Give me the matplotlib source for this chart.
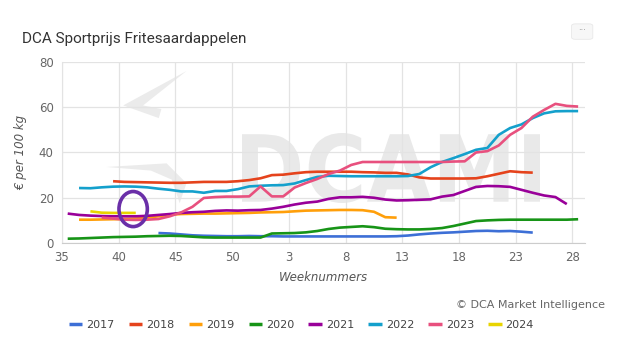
import matplotlib.pyplot as plt
import numpy as np
from matplotlib.patches import Ellipse, Polygon, FancyBboxPatch, PathPatch
from matplotlib.textpath import TextPath
from matplotlib.font_manager import FontProperties
from matplotlib.transforms import Affine2D

# Week labels along the x axis (season runs from week 35 to week 28)
tick_labels = ['35', '40', '45', '50', '3', '8', '13', '18', '23', '28']

# Prices in euro per 100 kg; each series starts at the given week index (0 = week 35)
start_2017 = 8
p2017 = [4.4, 4.2, 3.8, 3.4, 3.2, 3.1, 3.0, 3.0, 3.1, 3.0, 3.0, 2.9, 2.9, 2.9, 2.9, 2.9, 2.9,
         2.9, 2.9, 2.9, 2.9, 3.0, 3.3, 3.8, 4.2, 4.5, 4.7, 5.0, 5.3, 5.4, 5.2, 5.3, 5.0, 4.6]
start_2018 = 4
p2018 = [27.3, 27.0, 26.9, 26.8, 26.7, 26.6, 26.6, 26.8, 27.0, 27.0, 27.0, 27.3, 27.8, 28.6,
         30.0, 30.2, 30.8, 31.3, 31.5, 31.5, 31.5, 31.5, 31.3, 31.2, 31.0, 31.0, 30.3, 29.0,
         28.5, 28.5, 28.5, 28.5, 28.6, 29.5, 30.6, 31.7, 31.3, 31.1]
start_2019 = 1
p2019 = [10.3, 10.3, 10.4, 10.5, 10.6, 10.8, 11.2, 11.8, 12.5, 12.8, 12.9, 13.0, 13.0, 13.1,
         13.2, 13.3, 13.5, 13.6, 13.7, 14.0, 14.3, 14.4, 14.5, 14.6, 14.6, 14.5, 13.8, 11.4, 11.2]
start_2020 = 0
p2020 = [1.9, 2.0, 2.2, 2.4, 2.6, 2.7, 2.8, 3.0, 3.1, 3.2, 3.1, 2.8, 2.5, 2.4, 2.4, 2.4, 2.4,
         2.4, 4.2, 4.3, 4.4, 4.7, 5.3, 6.2, 6.8, 7.1, 7.4, 7.0, 6.3, 6.1, 6.0, 6.0, 6.2, 6.6,
         7.5, 8.6, 9.7, 10.0, 10.2, 10.3, 10.3, 10.3, 10.3, 10.3, 10.3, 10.5]
start_2021 = 0
p2021 = [13.0, 12.4, 12.1, 11.9, 11.8, 11.8, 11.8, 12.0, 12.4, 12.8, 13.3, 13.6, 13.8, 14.2,
         14.4, 14.3, 14.5, 14.6, 15.2, 16.0, 17.0, 17.8, 18.3, 19.5, 20.2, 20.2, 20.4, 20.0,
         19.2, 18.8, 18.9, 19.1, 19.3, 20.5, 21.2, 23.0, 24.8, 25.2, 25.1, 24.8, 23.5, 22.2,
         21.0, 20.3, 17.2]
start_2022 = 1
p2022 = [24.3, 24.2, 24.6, 24.9, 25.0, 24.9, 24.6, 24.0, 23.5, 22.8, 22.8, 22.2, 23.0, 23.0,
         23.8, 25.0, 25.3, 25.5, 25.6, 26.3, 27.8, 29.2, 29.7, 29.6, 29.5, 29.5, 29.5, 29.5,
         29.5, 29.6, 30.5, 33.5, 35.8, 37.5, 39.3, 41.2, 42.0, 47.8, 50.8, 52.4, 55.2, 57.3,
         58.2, 58.3, 58.3]
start_2023 = 3
p2023 = [11.2, 10.8, 10.3, 10.2, 10.3, 10.6, 11.8, 13.5, 16.0, 19.9, 20.3, 20.5, 20.5, 20.6,
         25.0, 20.6, 20.6, 24.5, 26.5, 28.3, 30.5, 32.0, 34.5, 35.8, 35.8, 35.8, 35.8, 35.8,
         35.8, 35.8, 35.8, 36.0, 36.1, 40.0, 40.6, 43.1, 47.8, 50.8, 55.8, 58.8, 61.5, 60.6, 60.3]
start_2024 = 2
p2024 = [14.0, 13.4, 13.3, 13.3, 13.3]

years = ['2017', '2018', '2019', '2020', '2021', '2022', '2023', '2024']
starts = [start_2017, start_2018, start_2019, start_2020, start_2021, start_2022, start_2023, start_2024]
series = [p2017, p2018, p2019, p2020, p2021, p2022, p2023, p2024]
colors = ['#3d6fd6', '#e5431c', '#ff9f0a', '#179417', '#990099', '#14a0cc', '#e8507e', '#e8d400']

fig = plt.figure(figsize=(6.24, 3.51), dpi=100)
ax = fig.add_axes([0.0994, 0.3077, 0.838, 0.5157])

# watermark: "DCAMI" squeezed into its box, plus a rough logo shape
tp = TextPath((0, 0), 'DCAMI', size=1, prop=FontProperties(family='DejaVu Sans', weight='bold'))
bb = tp.get_extents()
x0, y0, w, h = 242 / 624, 1 - 203 / 351, 298 / 624, 70 / 351
tr = Affine2D().translate(-bb.x0, -bb.y0).scale(w / bb.width, h / bb.height).translate(x0, y0)
ax.add_patch(PathPatch(tp, transform=tr + fig.transFigure, facecolor='#e9e9e9',
                       edgecolor='none', zorder=0, clip_on=False))
wm1 = Polygon([(0.238, 0.95), (0.117, 0.76), (0.185, 0.69), (0.19, 0.74), (0.155, 0.76)],
              closed=True, transform=ax.transAxes, facecolor='#ebebeb', edgecolor='none', zorder=0)
wm2 = Polygon([(0.085, 0.42), (0.2, 0.44), (0.238, 0.33), (0.225, 0.22), (0.21, 0.35), (0.17, 0.40)],
              closed=True, transform=ax.transAxes, facecolor='#ebebeb', edgecolor='none', zorder=0)
ax.add_patch(wm1)
ax.add_patch(wm2)

for yr, s0, vals, c in zip(years, starts, series, colors):
    x = np.arange(s0, s0 + len(vals)) + 0.5
    ax.plot(x, vals, color=c, lw=1.9, label=yr, solid_capstyle='butt', zorder=3)

# highlight circle around 2024
ax.add_patch(Ellipse((6.27, 15.0), 2.5, 15.5, fill=False, edgecolor='#6a2fa8', lw=2.6, zorder=4))

ax.set_xlim(0, 46.1)
ax.set_ylim(0, 80)
ax.set_xticks(np.arange(0, 46, 5))
ax.set_xticklabels(tick_labels)
ax.set_yticks([0, 20, 40, 60, 80])
ax.grid(True, color='#e3e3e3', lw=0.9)
ax.set_axisbelow(True)
for side in ['top', 'right']:
    ax.spines[side].set_visible(False)
ax.spines['left'].set_color('#e3e3e3')
ax.spines['bottom'].set_color('#cccccc')
ax.tick_params(length=0, labelsize=8.5, colors='#666666', pad=6)
ax.set_xlabel('Weeknummers', fontsize=8.5, style='italic', color='#555555', labelpad=5)
ax.set_ylabel('€ per 100 kg', fontsize=8.5, style='italic', color='#555555', labelpad=8)

fig.text(0.035, 0.89, 'DCA Sportprijs Fritesaardappelen', fontsize=11, color='#333333',
         family='Roboto', va='center')
fig.text(0.97, 0.132, '© DCA Market Intelligence', fontsize=8, color='#666666', ha='right',
         va='center')

# context menu button
btn = FancyBboxPatch((0.918, 0.89), 0.03, 0.04, boxstyle='round,pad=0.002,rounding_size=0.006',
                     transform=fig.transFigure, facecolor='#f7f7f7', edgecolor='#e8e8e8', lw=0.6)
fig.patches.append(btn)
fig.text(0.933, 0.912, '···', fontsize=6, color='#888888', ha='center', va='center')

leg = fig.legend(loc='center', bbox_to_anchor=(0.483, 0.074), ncol=8, frameon=False,
                 fontsize=8, handlelength=1.2, handletextpad=0.35, columnspacing=1.3,
                 labelcolor='#444444')
for line in leg.get_lines():
    line.set_linewidth(2.5)

fig.savefig('out.png', dpi=100)
